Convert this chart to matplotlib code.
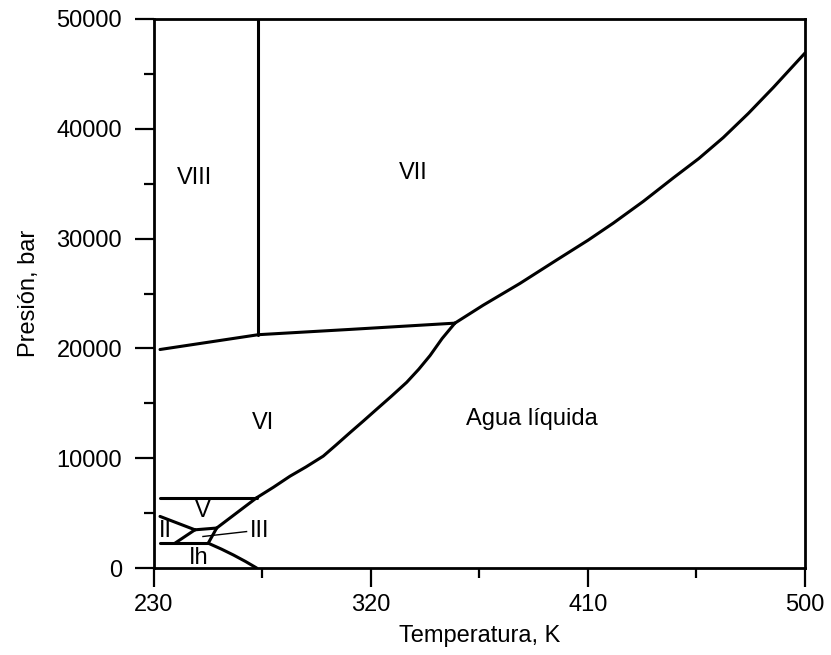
import matplotlib
matplotlib.use("Agg")
import matplotlib.pyplot as plt
from matplotlib.ticker import FixedLocator, MultipleLocator

plt.rcParams['font.family'] = ['Liberation Sans', 'DejaVu Sans']

# ----- PHASE BOUNDARIES (T in K, P in bar) -----
vi_vii_T = [232.5, 273.3, 311.3, 354.8]
vi_vii_P = [19900, 21250, 21730, 22300]

vii_viii_T = [273.3, 273.3]
vii_viii_P = [21250, 50000]

liq_vii_T = [354.8, 366.5, 381.8, 397.0, 410.0, 420.5, 433.0, 445.4, 456.0,
             466.1, 476.5, 486.9, 500.0]
liq_vii_P = [22300, 23930, 25920, 28050, 29850, 31410, 33400, 35530, 37300,
             39200, 41400, 43770, 46900]

liq_vi_T = [354.8, 349.5, 344.5, 339.8, 334.8, 328.5, 322.4, 316.8, 311.3,
            305.5, 300.2, 293.0, 286.4, 279.5, 272.6]
liq_vi_P = [22300, 20900, 19350, 18100, 16910, 15650, 14470, 13380, 12330,
            11200, 10190, 9200, 8360, 7350, 6400]

v_vi_T = [232.5, 272.6]
v_vi_P = [6400, 6400]

liq_v_T = [272.6, 256.0]
liq_v_P = [6400, 3640]

ii_v_T = [232.5, 247.0]
ii_v_P = [4700, 3480]

iii_v_T = [247.0, 256.0]
iii_v_P = [3480, 3640]

liq_iii_T = [256.0, 252.5]
liq_iii_P = [3640, 2260]

ii_iii_T = [238.7, 247.0]
ii_iii_P = [2260, 3480]

ih_low_T = [232.5, 252.5]
ih_low_P = [2260, 2260]

liq_ih_T = [252.5, 258.0, 263.0, 268.0, 272.6]
liq_ih_P = [2260, 1720, 1180, 590, 0]

boundaries = [
    (vi_vii_T, vi_vii_P), (vii_viii_T, vii_viii_P), (liq_vii_T, liq_vii_P),
    (liq_vi_T, liq_vi_P), (v_vi_T, v_vi_P), (liq_v_T, liq_v_P),
    (ii_v_T, ii_v_P), (iii_v_T, iii_v_P), (liq_iii_T, liq_iii_P),
    (ii_iii_T, ii_iii_P), (ih_low_T, ih_low_P), (liq_ih_T, liq_ih_P),
]

# phase names and where they sit
phase_names = ["VIII", "VII", "VI", "Agua líquida", "V", "II", "Ih"]
phase_T = [247.0, 337.6, 275.3, 386.7, 250.4, 234.6, 248.4]
phase_P = [35500, 36000, 13250, 13550, 5160, 3330, 890]

x_major = [230, 320, 410, 500]
x_minor = [275, 365, 455]

# ----- PLOT -----
fig = plt.figure(figsize=(8.31, 6.55), dpi=100)
ax = fig.add_axes([0.1853, 0.1328, 0.7834, 0.8382])

for T, P in boundaries:
    ax.plot(T, P, color='black', lw=2.2, solid_capstyle='round', solid_joinstyle='round')

for name, T, P in zip(phase_names, phase_T, phase_P):
    ax.text(T, P, name, ha='center', va='center', fontsize=17)

# label for the small region III with a pointer line
ax.plot([250.3, 268.4], [2870, 3320], color='black', lw=1.0)
ax.text(269.8, 3400, "III", ha='left', va='center', fontsize=17)

ax.set_xlim(230, 500)
ax.set_ylim(0, 50000)
ax.xaxis.set_major_locator(FixedLocator(x_major))
ax.xaxis.set_minor_locator(FixedLocator(x_minor))
ax.yaxis.set_major_locator(MultipleLocator(10000))
ax.yaxis.set_minor_locator(MultipleLocator(5000))

ax.tick_params(which='major', direction='out', length=14, width=1.6, labelsize=17)
ax.tick_params(axis='y', which='major', pad=9)
ax.tick_params(axis='x', which='major', pad=5)
ax.tick_params(which='minor', direction='out', length=7, width=1.6)
for s in ax.spines.values():
    s.set_linewidth(2.0)

ax.set_xlabel("Temperatura, K", fontsize=17, labelpad=6)
ax.set_ylabel("Presión, bar", fontsize=17, labelpad=12)

fig.savefig("out.png", dpi=100)
